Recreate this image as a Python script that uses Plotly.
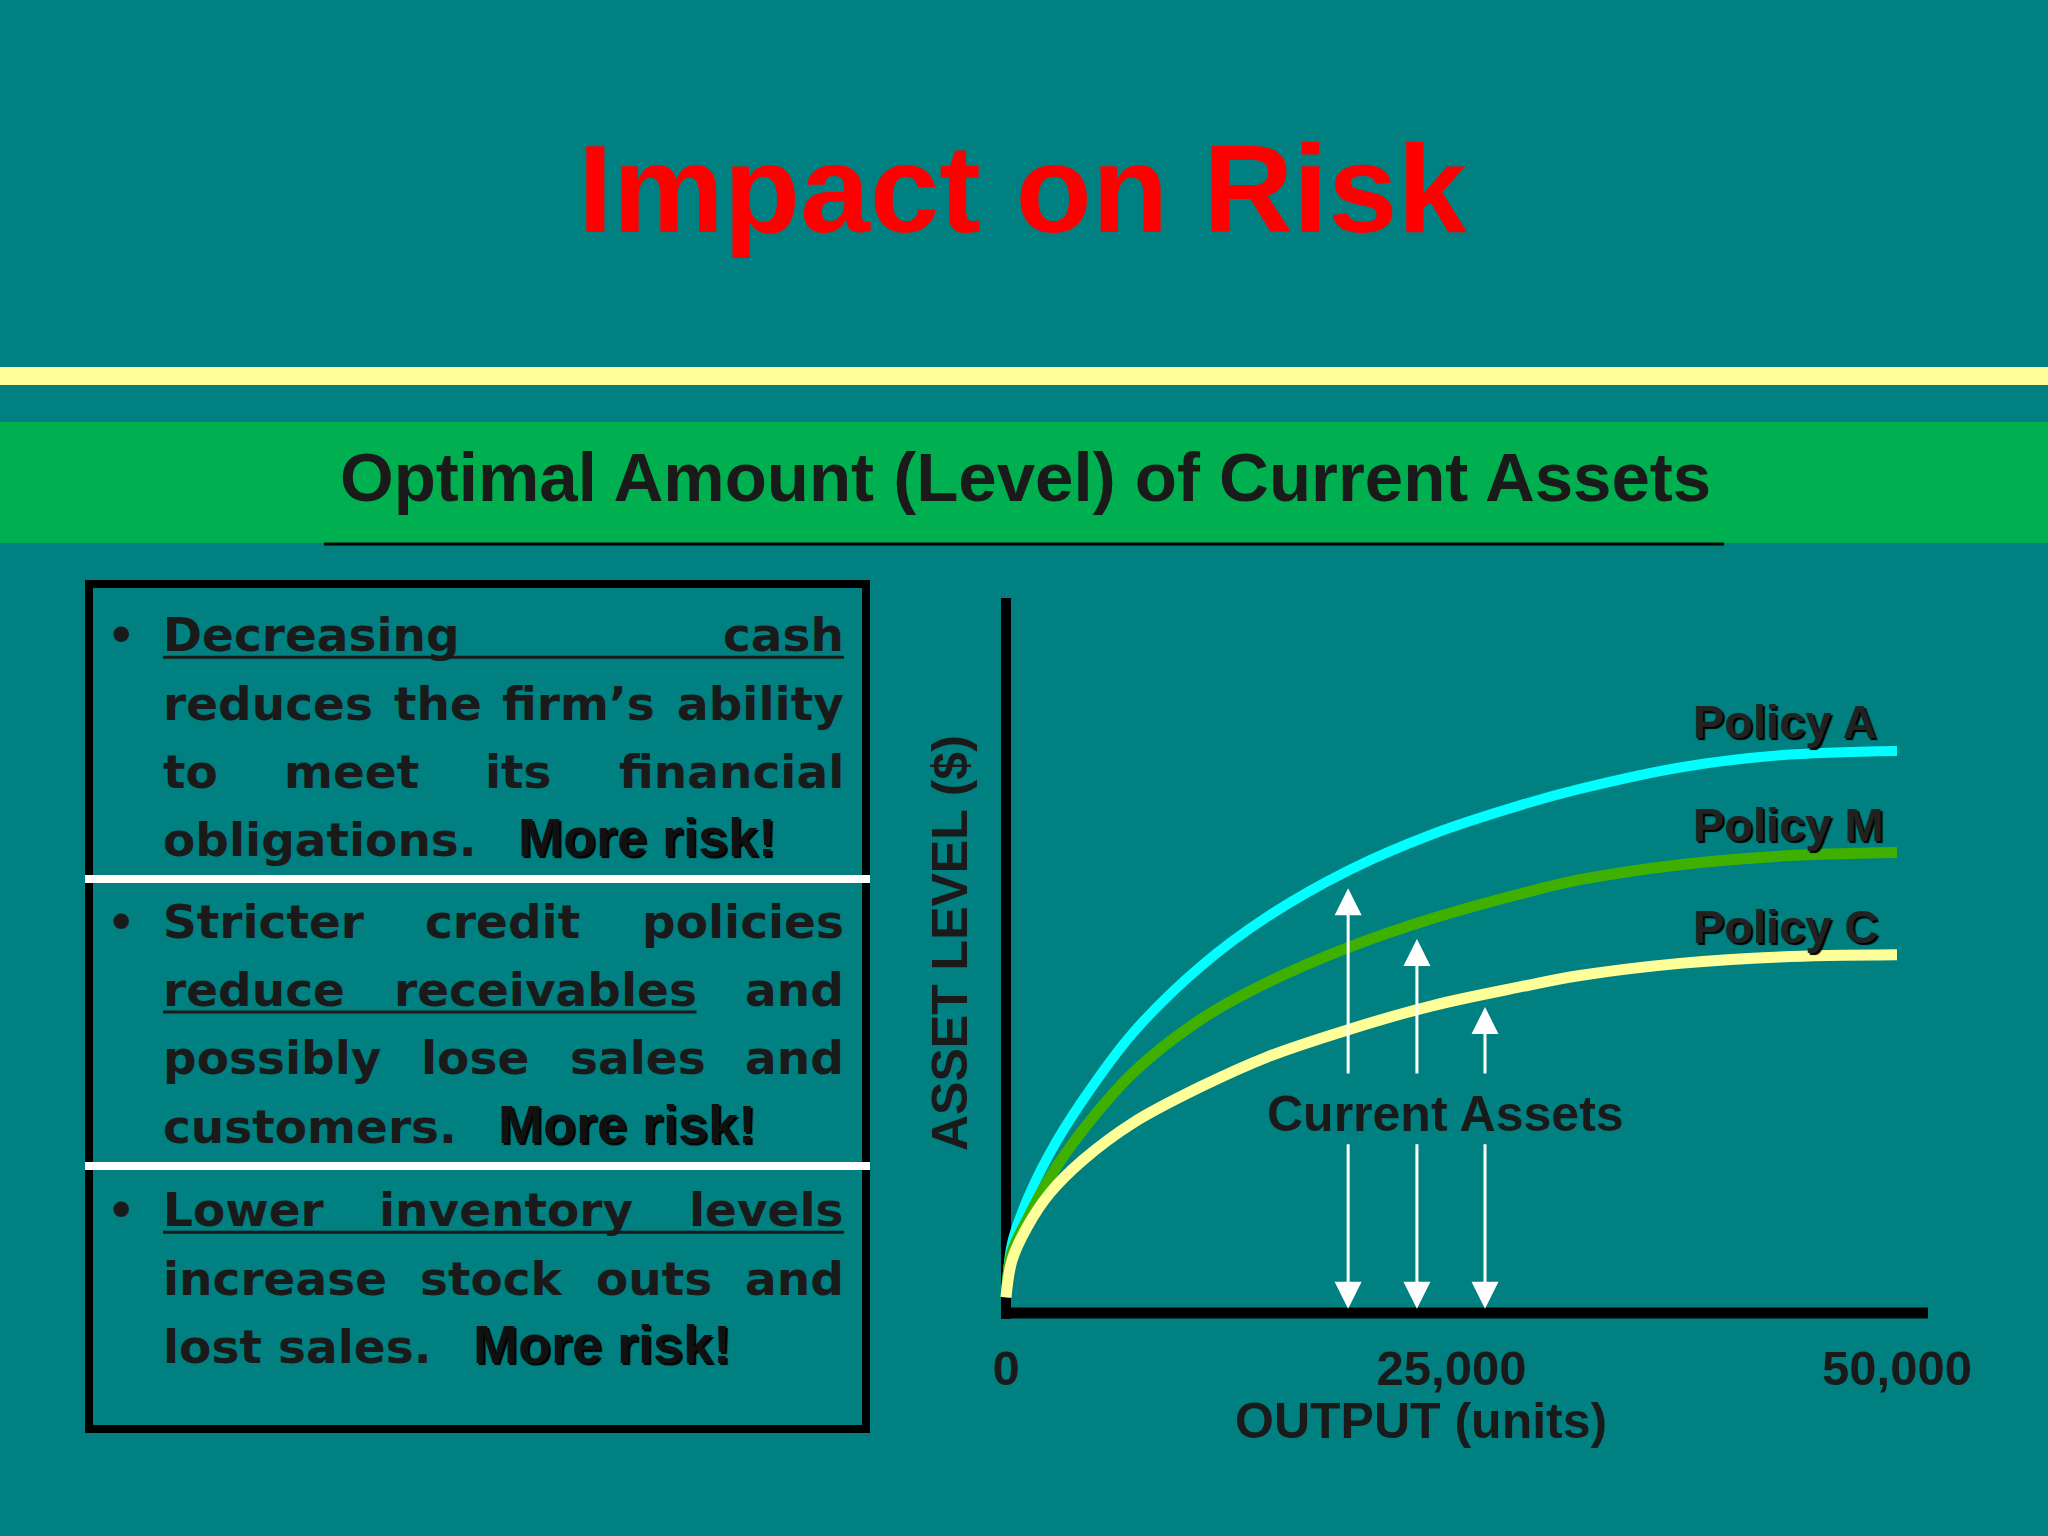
import plotly.graph_objects as go

# ---------------- data ----------------
output_units = [0, 340, 1180, 2470, 4320, 7130, 10890, 14650, 19300, 23960, 28840, 32210, 37820, 43440, 50000]
policy_a = [2.2, 9.8, 15.8, 22.4, 29.8, 39.2, 48.4, 55.4, 62.0, 67.0, 71.0, 73.3, 76.3, 78.0, 78.6]
policy_m = [2.2, 8.5, 13.0, 19.0, 25.6, 33.6, 41.0, 46.2, 51.2, 55.2, 58.6, 60.6, 62.7, 63.9, 64.4]
policy_c = [2.2, 7.4, 12.0, 16.8, 21.4, 26.6, 31.6, 35.8, 39.7, 43.0, 45.6, 47.2, 48.9, 49.8, 50.1]
policy_names = ["Policy A", "Policy M", "Policy C"]
policy_label_level = [82.7, 68.3, 54.1]
policy_label_output = 38550

arrow_output = [19200, 23060, 26880]
arrow_top = [59.4, 52.3, 42.8]
arrow_gap = [23.8, 33.3]          # bottom / top of the gap around the label
current_assets_output = 24660
current_assets_level = 27.9

x_tickvals = [0, 25000, 50000]
x_ticktext = ["0", "25,000", "50,000"]

title_text = "Impact on Risk"
subtitle_text = "Optimal Amount (Level) of Current Assets"
x_title = "OUTPUT (units)"
y_title = "ASSET LEVEL ($)"

para1 = ["Decreasing cash", "reduces the firm\u2019s ability", "to meet its financial", "obligations."]
para2 = ["Stricter credit policies", "reduce receivables and", "possibly lose sales and", "customers."]
para3 = ["Lower inventory levels", "increase stock outs and", "lost sales."]
emphasis = "More risk!"
underlined_words = [2, 2, 3]   # leading words underlined on first / second / first line
underlined_line = [0, 1, 0]

# ---------------- layout helpers ----------------
W, H = 2048, 1536
BG = "#008080"
INK = "#1a1a1a"
ARIAL = "Liberation Sans, Arial, sans-serif"
DEJAVU = "DejaVu Sans, sans-serif"


def px(x):
    return x / W


def py(y):
    return 1 - y / H


# axis geometry (pixels)
X0_PX, X_PER = 1006, 891 / 50000
Y0_PX, Y_PER = 1313, 7.15
XR = [-2000, 52000]
YR = [-5, 105]
xdom = [px(X0_PX + XR[0] * X_PER), px(X0_PX + XR[1] * X_PER)]
ydom = [py(Y0_PX - YR[0] * Y_PER), py(Y0_PX - YR[1] * Y_PER)]

fig = go.Figure()

colors = ["#00FFFF", "#40B000", "#FFFF99"]
widths = [10, 11, 11]
for name, ys, col, w in zip(policy_names, [policy_a, policy_m, policy_c], colors, widths):
    fig.add_trace(go.Scatter(
        x=output_units, y=ys, mode="lines", name=name, showlegend=False,
        hoverinfo="skip",
        line=dict(color=col, width=w, shape="spline", smoothing=1.0),
    ))

shapes = []
# yellow rule and green band
shapes.append(dict(type="rect", xref="paper", yref="paper", x0=0, x1=1, y0=py(385), y1=py(367),
                   fillcolor="#FFFF99", line=dict(width=0), layer="below"))
shapes.append(dict(type="rect", xref="paper", yref="paper", x0=0, x1=1, y0=py(543), y1=py(422),
                   fillcolor="#00B050", line=dict(width=0), layer="below"))
shapes.append(dict(type="line", xref="paper", yref="paper", x0=px(324), x1=px(1724), y0=py(544), y1=py(544),
                   line=dict(color="black", width=3)))
# left text box
shapes.append(dict(type="rect", xref="paper", yref="paper", x0=px(89), x1=px(866), y0=py(1429), y1=py(584),
                   line=dict(color="black", width=8), fillcolor="rgba(0,0,0,0)"))
for ysep in [879, 1166]:
    shapes.append(dict(type="line", xref="paper", yref="paper", x0=px(85), x1=px(870), y0=py(ysep), y1=py(ysep),
                       line=dict(color="white", width=8)))
# chart axes (drawn in data space)
shapes.append(dict(type="line", xref="x", yref="y", x0=-250, x1=51740, y0=0, y1=0,
                   line=dict(color="black", width=11), layer="below"))
shapes.append(dict(type="line", xref="x", yref="y", x0=0, x1=0, y0=-0.8, y1=100,
                   line=dict(color="black", width=10), layer="below"))

ann = []
# titles
ann.append(dict(xref="paper", yref="paper", x=px(1023), y=py(188), xanchor="center", yanchor="middle",
                text=title_text, showarrow=False,
                font=dict(family=ARIAL, size=125, color="#FF0000", weight="bold")))
ann.append(dict(xref="paper", yref="paper", x=px(1025), y=py(477), xanchor="center", yanchor="middle",
                text=subtitle_text, showarrow=False,
                font=dict(family=ARIAL, size=69, color=INK, weight="bold")))
# axis titles
ann.append(dict(xref="paper", yref="paper", x=px(1421), y=py(1421), xanchor="center", yanchor="middle",
                text=x_title, showarrow=False,
                font=dict(family=ARIAL, size=50, color=INK, weight="bold")))
ann.append(dict(xref="paper", yref="paper", x=px(950), y=py(943), xanchor="center", yanchor="middle",
                text=y_title, showarrow=False, textangle=-90,
                font=dict(family=ARIAL, size=50, color=INK, weight="bold")))

# policy labels
for name, lvl in zip(policy_names, policy_label_level):
    ann.append(dict(xref="x", yref="y", x=policy_label_output, y=lvl, xanchor="left", yanchor="middle",
                    text=name, showarrow=False, borderpad=0, borderwidth=0,
                    font=dict(family=ARIAL, size=47, color="#222222", weight="bold",
                              shadow="2px 2px 1px #000000")))

# arrows
for xa, top in zip(arrow_output, arrow_top):
    for head, tail in [(top, arrow_gap[1]), (0.6, arrow_gap[0])]:
        ann.append(dict(xref="x", yref="y", axref="x", ayref="y", x=xa, y=head, ax=xa, ay=tail,
                        text="", showarrow=True, arrowhead=2, arrowsize=1.8, arrowwidth=3,
                        arrowcolor="white", standoff=0))
ann.append(dict(xref="x", yref="y", x=current_assets_output, y=current_assets_level,
                xanchor="center", yanchor="middle", text="Current Assets", showarrow=False,
                font=dict(family=ARIAL, size=50, color=INK, weight="bold")))

# ---------------- left box text (justified) ----------------
DV_BOLD = {' ': .348, 'D': .830, 'L': .637, 'S': .720, 'a': .675, 'b': .716, 'c': .593, 'd': .716,
           'e': .678, 'f': .435, 'g': .716, 'h': .712, 'i': .343, 'k': .665, 'l': .343, 'm': 1.042,
           'n': .712, 'o': .687, 'p': .716, 'r': .493, 's': .595, 't': .478, 'u': .712, 'v': .652,
           'w': .924, 'y': .652, '\u2019': .380, '.': .380}


def dv_width(s, size):
    return size * sum(DV_BOLD.get(c, .65) for c in s)


LEFT, RIGHT = 163, 844
FS = 47
PITCH = 68.3
first_baselines = [651.7, 938.3, 1226.7]
body_font = dict(family=DEJAVU, size=FS, color=INK, weight="bold")
emph_font = dict(family=ARIAL, size=54, color="#111111", weight="bold", shadow="2px 2px 1px #000000")

for pi, (para, b0) in enumerate(zip([para1, para2, para3], first_baselines)):
    ann.append(dict(xref="paper", yref="paper", x=px(121), y=py(b0 - 0.40 * FS), xanchor="center",
                    yanchor="middle", text="\u2022", showarrow=False, borderpad=0, borderwidth=0,
                    font=dict(family=ARIAL, size=58, color=INK)))
    for li, line in enumerate(para):
        base = b0 + li * PITCH
        yc = py(base - 0.36 * FS)
        words = line.split()
        last = li == len(para) - 1
        wds = [dv_width(w, FS) for w in words]
        if not last and len(words) > 1:
            gap = (RIGHT - LEFT - sum(wds)) / (len(words) - 1)
        else:
            gap = dv_width(" ", FS)
        xs = []
        xc = LEFT
        for wd in wds:
            xs.append(xc)
            xc += wd + gap
        for k, (word, xw) in enumerate(zip(words, xs)):
            if not last and len(words) > 1 and k == len(words) - 1:
                ann.append(dict(xref="paper", yref="paper", x=px(RIGHT), y=yc, xanchor="right",
                                yanchor="middle", text=word, showarrow=False, borderpad=0,
                                borderwidth=0, font=body_font))
            else:
                ann.append(dict(xref="paper", yref="paper", x=px(xw), y=yc, xanchor="left",
                                yanchor="middle", text=word, showarrow=False, borderpad=0,
                                borderwidth=0, font=body_font))
        if li == underlined_line[pi]:
            n = underlined_words[pi]
            x_end = RIGHT if n == len(words) else xs[n - 1] + wds[n - 1]
            shapes.append(dict(type="line", xref="paper", yref="paper", x0=px(LEFT), x1=px(x_end),
                               y0=py(base + 5.5), y1=py(base + 5.5), line=dict(color=INK, width=3)))
        if last:
            x_emph = LEFT + sum(wds) + gap * (len(words) - 1) + 41
            ann.append(dict(xref="paper", yref="paper", x=px(x_emph), y=py(base - 0.358 * 54),
                            xanchor="left", yanchor="middle", text=emphasis, showarrow=False,
                            borderpad=0, borderwidth=0, font=emph_font))

fig.update_layout(
    width=W, height=H, autosize=False,
    margin=dict(l=0, r=0, t=0, b=0, pad=0, autoexpand=False),
    paper_bgcolor=BG, plot_bgcolor="rgba(0,0,0,0)",
    showlegend=False,
    shapes=shapes, annotations=ann,
    xaxis=dict(domain=xdom, range=XR, showgrid=False, zeroline=False, showline=False, ticks="",
               tickmode="array", tickvals=x_tickvals, ticktext=x_ticktext, ticklabelstandoff=-14,
               tickfont=dict(family=ARIAL, size=49, color=INK, weight="bold"), fixedrange=True,
               automargin=False),
    yaxis=dict(domain=ydom, range=YR, visible=False, fixedrange=True, automargin=False),
)

post = (
    "document.documentElement.style.margin='0';"
    "document.body.style.margin='0';"
    "document.body.style.padding='0';"
    "document.documentElement.style.overflow='hidden';"
    "document.body.style.overflow='hidden';"
    "var gd=document.getElementById('{plot_id}');"
    "gd.style.width='2048px';gd.style.height='1536px';"
    "Plotly.relayout(gd,{width:2048,height:1536,autosize:false});"
)

fig.write_html(
    "out.html",
    config={"responsive": False, "displayModeBar": False},
    default_width="2048px", default_height="1536px",
    post_script=post,
)
